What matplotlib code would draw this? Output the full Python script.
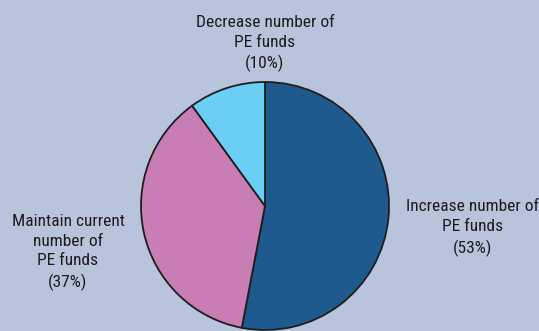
import matplotlib.pyplot as plt

# survey answers: planned change in number of PE funds
labels = ['Increase number of\nPE funds', 'Maintain current\nnumber of\nPE funds', 'Decrease number of\nPE funds']
shares = [53, 37, 10]
colors = ['#1f5a8f', '#c97db5', '#6bcff5']

bg = '#b8c3dc'
plt.rcParams['font.family'] = ['Roboto Condensed', 'DejaVu Sans']

fig = plt.figure(figsize=(5.39, 3.31), dpi=100, facecolor=bg)
ax = fig.add_axes([0, 0, 1, 1])
ax.set_facecolor(bg)

ax.pie(shares, colors=colors, startangle=90, counterclock=False,
       center=(265, 125), radius=124, frame=True,
       wedgeprops=dict(edgecolor='#1e1e1e', linewidth=1.3))
ax.set_xlim(0, 539)
ax.set_ylim(0, 331)
ax.set_aspect('equal')
ax.axis('off')

# labels with percentage on the last line
pos = [(473, 103), (68, 78.5), (265, 287.5)]
for lab, s, (x, y) in zip(labels, shares, pos):
    ax.text(x, y, f'{lab}\n({s}%)', ha='center', va='center',
            fontsize=12.5, color='#1c1c1c', linespacing=1.4)

fig.savefig('out.png', dpi=100, facecolor=bg)
